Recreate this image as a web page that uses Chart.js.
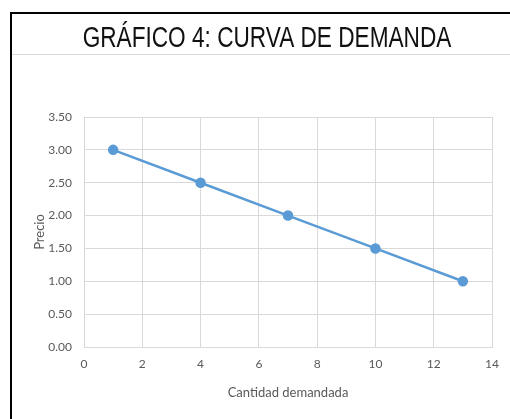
<!DOCTYPE html>
<html>
<head>
<meta charset="utf-8">
<script src="https://cdn.jsdelivr.net/npm/chart.js@4"></script>
<style>
  html, body { margin: 0; padding: 0; background: #fff; overflow: hidden; }
  #marco {
    position: absolute; left: 10px; top: 12px;
    width: 600px; height: 500px;
    border: 2px solid #000; background: #fff;
  }
  #linea {
    position: absolute; left: 0; top: 40px; width: 100%;
    border-top: 1px solid #d9d9d9;
  }
  #grafico { position: absolute; left: 0; top: 0; }
</style>
</head>
<body>
<div id="marco">
  <div id="linea"></div>
  <canvas id="grafico" width="498" height="405"></canvas>
</div>
<script>
"use strict";

// datos de la curva de demanda
var cantidad = [1, 4, 7, 10, 13];
var precio = [3.0, 2.5, 2.0, 1.5, 1.0];
var titulo = "GRÁFICO 4: CURVA DE DEMANDA";
var tituloX = "Cantidad demandada";
var tituloY = "Precio";

var puntos = cantidad.map(function (q, i) {
  return { x: q, y: precio[i] };
});

var gris = "#595959";
var fuenteEjes = { family: "Lato, 'Noto Sans', sans-serif", size: 12 };

// titulo estrecho (tipo Arial Narrow), dibujado a mano
var tituloEstrecho = {
  id: "tituloEstrecho",
  afterDraw: function (chart) {
    var c = chart.ctx;
    c.save();
    c.translate(255, 33);
    c.scale(0.78, 1);
    c.font = "29px 'Liberation Sans', Arial, sans-serif";
    c.fillStyle = "#111";
    c.textAlign = "center";
    c.textBaseline = "alphabetic";
    c.fillText(titulo, 0, 0);
    c.restore();
  },
};

let ctx = document.getElementById("grafico").getContext("2d");
let curvaDemanda = new Chart(ctx, {
  type: "scatter",
  data: {
    datasets: [
      {
        label: "Demanda",
        data: puntos,
        showLine: true,
        borderColor: "#5b9bd5",
        backgroundColor: "#5b9bd5",
        borderWidth: 2.5,
        pointRadius: 4,
        pointHoverRadius: 4,
      },
    ],
  },
  plugins: [tituloEstrecho],
  options: {
    responsive: false,
    animation: false,
    layout: { padding: { left: 20, right: 18, bottom: 0, top: 103 } },
    plugins: {
      legend: { display: false },
      tooltip: { enabled: false },
      title: { display: false },
    },
    scales: {
      x: {
        type: "linear",
        min: 0,
        max: 14,
        ticks: { stepSize: 2, color: gris, font: fuenteEjes, padding: 10 },
        grid: { color: "#d9d9d9", drawTicks: false },
        border: { color: "#d9d9d9" },
        title: { display: true, text: tituloX, color: gris, font: { family: fuenteEjes.family, size: 13 }, padding: { top: 6, bottom: 18 } },
        afterFit: function (scale) { scale.height = 72; },
      },
      y: {
        min: 0,
        max: 3.5,
        ticks: {
          stepSize: 0.5,
          color: gris,
          font: fuenteEjes,
          padding: 12,
          callback: function (v) { return v.toFixed(2); },
        },
        grid: { color: "#d9d9d9", drawTicks: false },
        border: { color: "#d9d9d9" },
        title: { display: true, text: tituloY, color: gris, font: { family: fuenteEjes.family, size: 13 }, padding: { top: 0, bottom: 2 } },
        afterFit: function (scale) { scale.width = 52; },
      },
    },
  },
});
</script>
</body>
</html>
